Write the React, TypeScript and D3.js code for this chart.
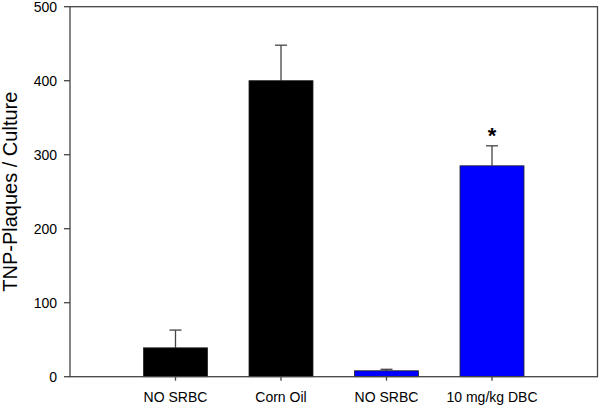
import React from 'react';
import * as d3 from 'd3';

const categories = ['NO SRBC', 'Corn Oil', 'NO SRBC ', '10 mg/kg DBC'];
const labels = ['NO SRBC', 'Corn Oil', 'NO SRBC', '10 mg/kg DBC'];
const means = [39, 400, 8, 285];
const errors = [24, 48, 2, 27];
const colors = ['#000000', '#000000', '#0000ff', '#0000ff'];
const significant = [false, false, false, true];
const yTicks = [0, 100, 200, 300, 400, 500];

const width = 600;
const height = 406;
const margin = { top: 6.7, right: 2.5, bottom: 29.3, left: 70 };
const font = '"Liberation Sans", Arial, sans-serif';
const axisColor = '#444';

const App = () => {
  const x = d3.scalePoint<string>()
    .domain(categories)
    .range([margin.left, width - margin.right])
    .padding(1);

  const y = d3.scaleLinear()
    .domain([0, 500])
    .range([height - margin.bottom, margin.top]);

  const barW = 64;
  const capW = 12;
  const x0 = margin.left;
  const x1 = width - margin.right;
  const yBase = y(0);

  return (
    <svg width={width} height={height} style={{ position: 'absolute', left: 0, top: 0 }}>
      <rect x={0} y={0} width={width} height={height} fill="#fff" />

      {categories.map((c, i) => {
        const cx = x(c)!;
        const top = y(means[i]);
        const errTop = y(means[i] + errors[i]);
        return (
          <g key={c}>
            <line x1={cx} x2={cx} y1={top} y2={errTop} stroke={axisColor} strokeWidth={1.3} />
            <line x1={cx - capW / 2} x2={cx + capW / 2} y1={errTop} y2={errTop} stroke={axisColor} strokeWidth={1.3} />
            <rect
              x={cx - barW / 2}
              y={top}
              width={barW}
              height={yBase - top}
              fill={colors[i]}
              stroke="#222"
              strokeWidth={0.8}
            />
            {significant[i] && (
              <text x={cx} y={errTop - 3} textAnchor="middle" fontFamily={font} fontSize={22} fontWeight="bold" fill="#000">*</text>
            )}
          </g>
        );
      })}

      {/* frame */}
      <rect x={x0} y={margin.top} width={x1 - x0} height={yBase - margin.top} fill="none" stroke={axisColor} strokeWidth={1.3} />

      {/* y axis */}
      {yTicks.map(t => (
        <g key={t}>
          <line x1={x0 - 6} x2={x0} y1={y(t)} y2={y(t)} stroke={axisColor} strokeWidth={1.3} />
          <text x={x0 - 13} y={y(t)} dy="0.35em" textAnchor="end" fontFamily={font} fontSize={14} fill="#000">{t}</text>
        </g>
      ))}

      {/* x axis */}
      {categories.map((c, i) => (
        <g key={c}>
          <line x1={x(c)!} x2={x(c)!} y1={yBase} y2={yBase + 4} stroke={axisColor} strokeWidth={1.3} />
          <text x={x(c)!} y={yBase + 25} textAnchor="middle" fontFamily={font} fontSize={14} fill="#000">{labels[i]}</text>
        </g>
      ))}

      <text
        transform={`translate(17,${(margin.top + yBase) / 2}) rotate(-90)`}
        textAnchor="middle"
        fontFamily={font}
        fontSize={20}
        fill="#000"
      >
        TNP-Plaques / Culture
      </text>
    </svg>
  );
};

export default App;
